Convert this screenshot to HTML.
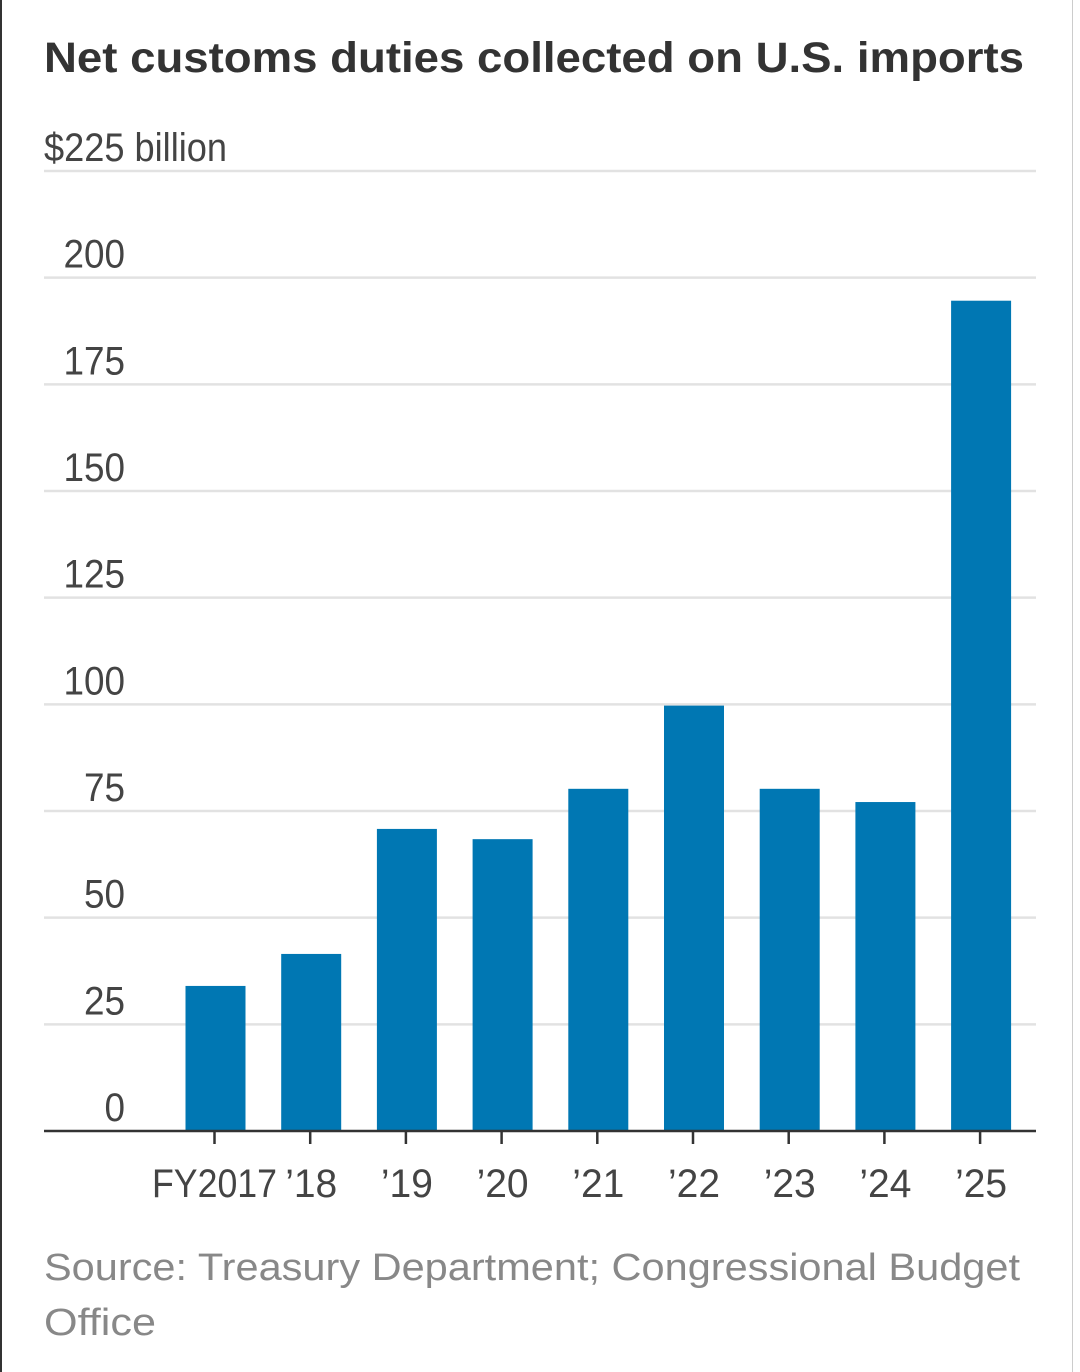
<!DOCTYPE html>
<html><head><meta charset="utf-8"><style>
html,body{margin:0;padding:0;background:#fff;}
body{width:1080px;height:1372px;overflow:hidden;position:relative;}
svg{position:absolute;left:0;top:0;}
</style></head><body>
<svg id="chart" width="1080" height="1372" viewBox="0 0 1080 1372" xmlns="http://www.w3.org/2000/svg">
<rect x="0" y="0" width="2" height="1372" fill="#333"/>
<rect x="1072" y="0" width="1" height="1372" fill="#ccc"/>
<text x="44" y="72" font-family="'Liberation Sans',sans-serif" font-weight="bold" font-size="43" fill="#333" textLength="980" lengthAdjust="spacingAndGlyphs">Net customs duties collected on U.S. imports</text>
<g id="grid"></g>
<g id="ylabels"></g>
<g id="bars"></g>
<g id="xaxis"></g>
<text x="44" y="1280" font-family="'Liberation Sans',sans-serif" font-size="38" fill="#888" textLength="976" lengthAdjust="spacingAndGlyphs">Source: Treasury Department; Congressional Budget</text>
<text x="44" y="1335" font-family="'Liberation Sans',sans-serif" font-size="38" fill="#888" textLength="112" lengthAdjust="spacingAndGlyphs">Office</text>
</svg>
<script>
const categories = ["FY2017","\u201918","\u201919","\u201920","\u201921","\u201922","\u201923","\u201924","\u201925"];
const values = [34, 41.5, 70.8, 68.4, 80.2, 99.7, 80.2, 77.1, 194.6];
const yTicks = [0,25,50,75,100,125,150,175,200,225];
const yTickLabels = ["0","25","50","75","100","125","150","175","200","$225 billion"];

const NS="http://www.w3.org/2000/svg";
const y0=1131, pxPer=960/225;
function yScale(v){return y0 - v*pxPer;}
const xStart=215.5, step=95.7, barW=60;
function xScale(i){return xStart + i*step;}
const font="'Liberation Sans',sans-serif";

function mk(tag,attrs,parent){const e=document.createElementNS(NS,tag);for(const k in attrs)e.setAttribute(k,attrs[k]);parent.appendChild(e);return e;}

const grid=document.getElementById('grid'), yl=document.getElementById('ylabels');
yTicks.forEach((t,i)=>{
  if(t>0){
    const l=mk('line',{x1:44,x2:1036,y1:yScale(t),y2:yScale(t),stroke:'#e2e2e2','stroke-width':2.5},grid);
    
    
  }
  const last=i===yTicks.length-1;
  const attrs={x:last?44:125,y:yScale(t)-10,'text-anchor':last?'start':'end','font-family':font,'font-size':40,fill:'#444'};
  if(last){attrs.textLength=183;attrs.lengthAdjust='spacingAndGlyphs';}
  else{attrs.textLength=String(t).length*20.5;attrs.lengthAdjust='spacingAndGlyphs';}
  const tx=mk('text',attrs,yl);
  tx.textContent=yTickLabels[i];
  
  
});

const bars=document.getElementById('bars');
values.forEach((v,i)=>{
  const r=mk('rect',{x:xScale(i)-barW/2,y:yScale(v),width:barW,height:y0-yScale(v),fill:'#0077b3'},bars);
  
  
});

const xa=document.getElementById('xaxis');
const ax=mk('line',{x1:44,x2:1036,y1:y0,y2:y0,stroke:'#333','stroke-width':2.5},xa);


categories.forEach((c,i)=>{
  const tk=mk('line',{x1:xScale(i)-1,x2:xScale(i)-1,y1:y0,y2:y0+13,stroke:'#333','stroke-width':2.5},xa);
  
  
  const tx=mk('text',{x:xScale(i)-(i===0?1:0),y:1197,'text-anchor':'middle','font-family':font,'font-size':40,fill:'#444',textLength:i===0?125:52,lengthAdjust:'spacingAndGlyphs'},xa);
  tx.textContent=c;
  
  
});
</script>
</body></html>
